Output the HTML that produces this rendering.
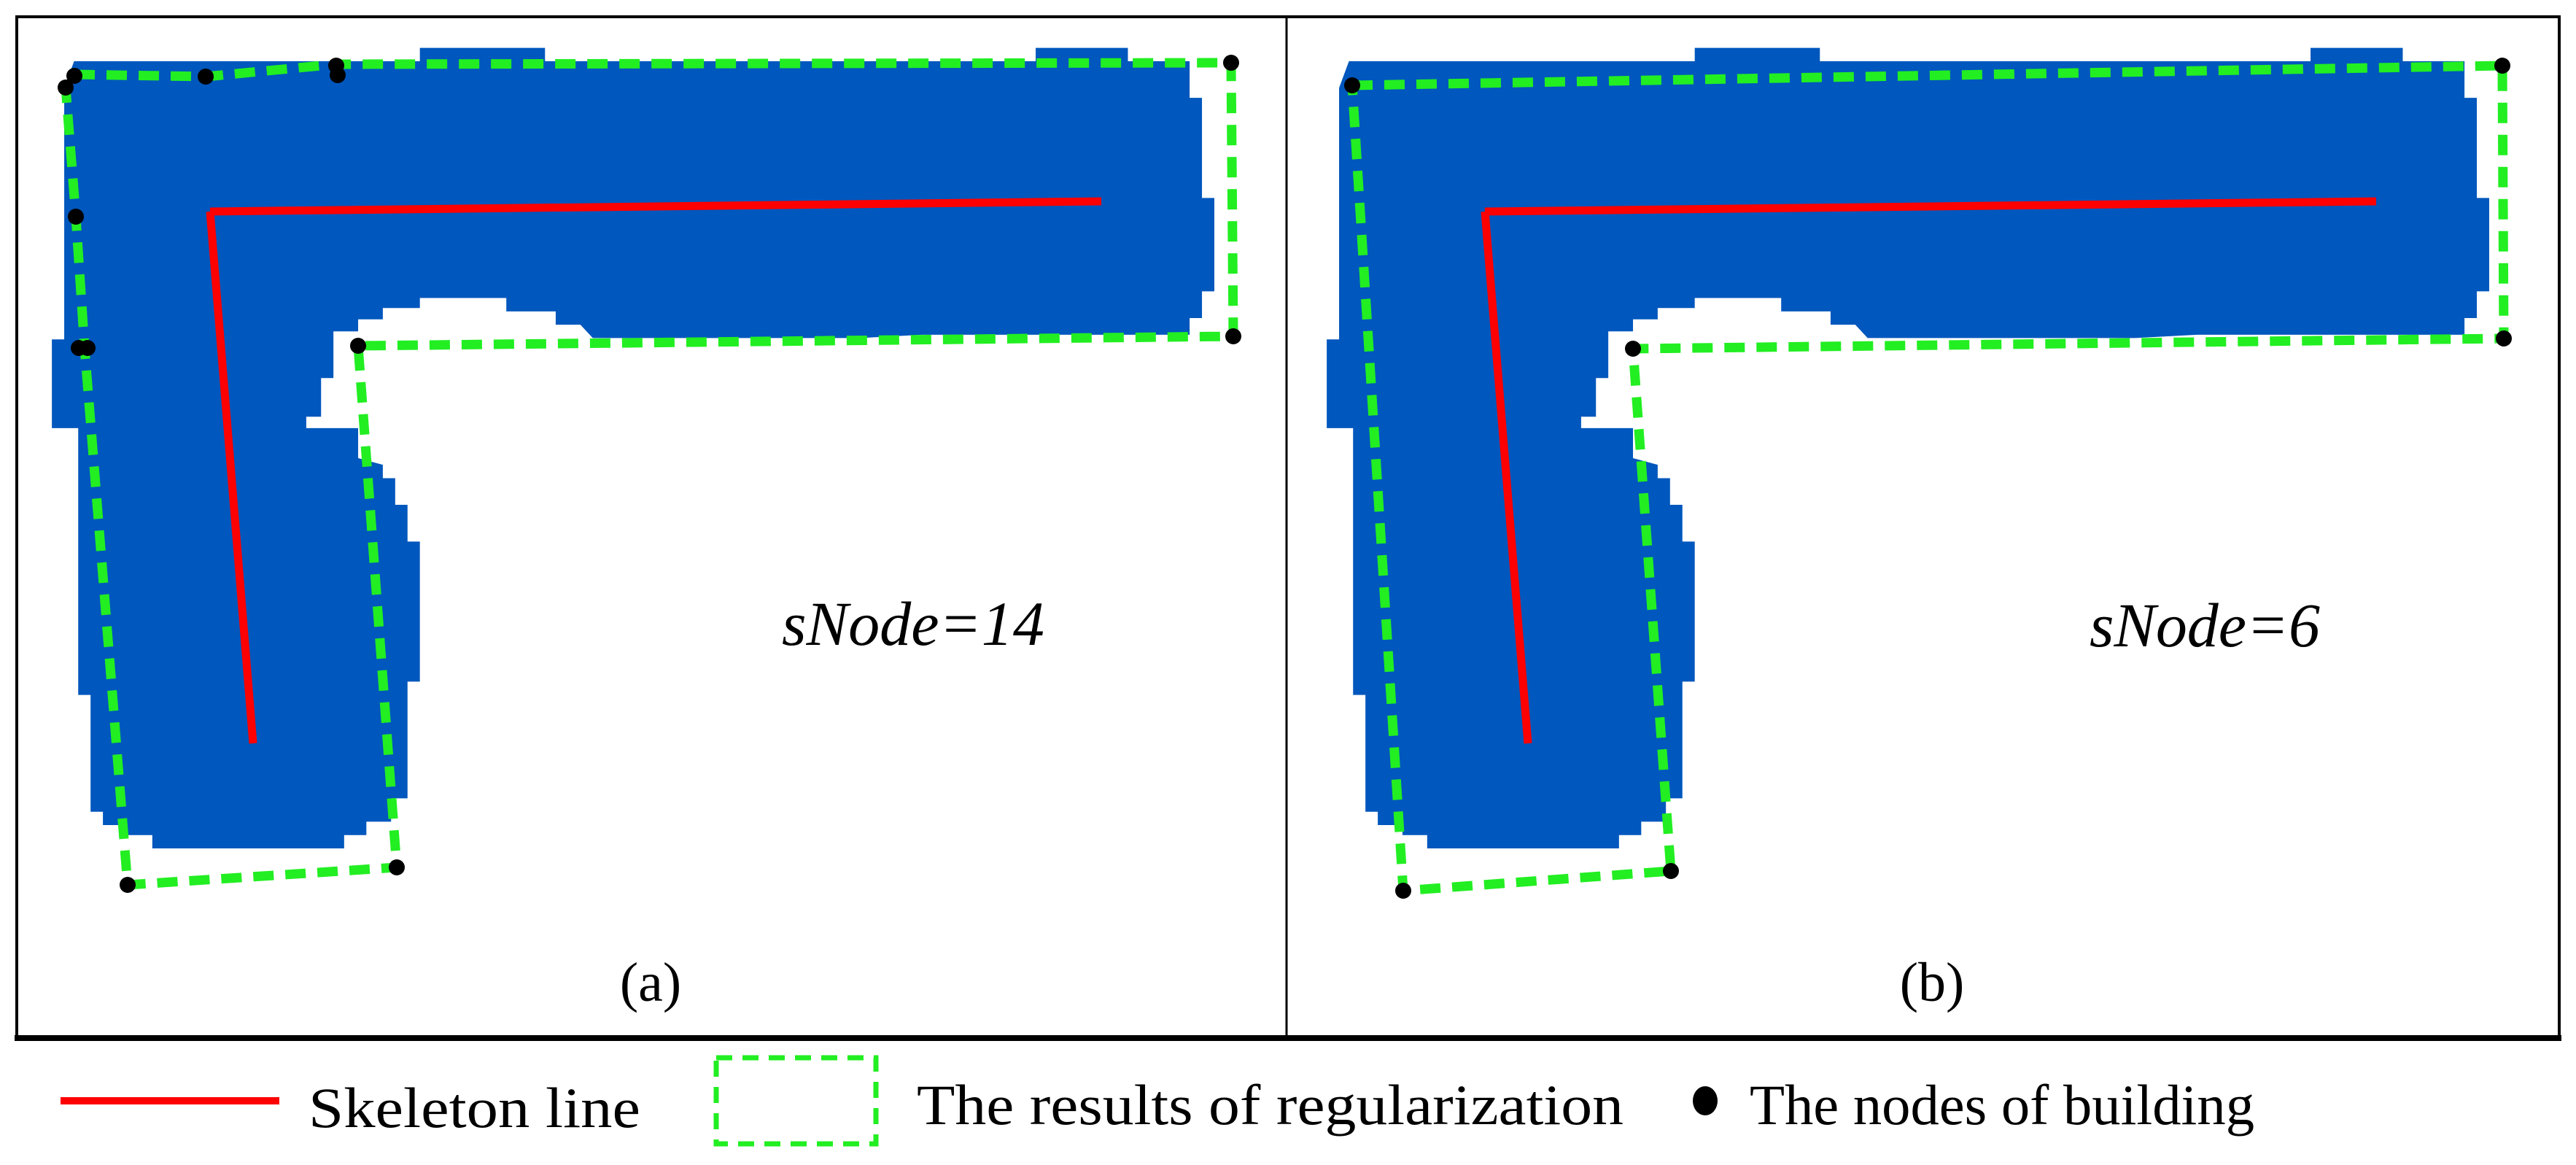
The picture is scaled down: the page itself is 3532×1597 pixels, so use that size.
<!DOCTYPE html>
<html><head><meta charset="utf-8"><style>html,body{margin:0;padding:0;background:#fff}svg{display:block}text{font-family:"Liberation Serif","Times New Roman",serif}</style></head>
<body>
<svg width="3532" height="1597" viewBox="0 0 3532 1597" xmlns="http://www.w3.org/2000/svg">
<rect width="3532" height="1597" fill="#fff"/>
<defs>
<g id="bld">
<polygon transform="matrix(1.1288 0 0 0.9145 0 -3)" fill="#0057bd" points="90,95 510,95 510,75 662,75 662,95 1258,95 1258,75 1370,75 1370,95 1445,95 1445,150 1460,150 1460,300 1475,300 1475,440 1460,440 1460,480 1445,480 1445,505 1120,505 1045,510 720,510 705,490 675,490 675,470 615,470 615,450 510,450 510,465 465,465 465,482 435,482 435,500 405,500 405,570 390,570 390,628 372,628 372,645 435,645 435,690 465,700 465,720 480,720 480,760 495,760 495,815 510,815 510,1025 495,1025 495,1200 475,1200 475,1235 445,1235 445,1255 418,1255 418,1275 185,1275 185,1255 155,1255 155,1240 125,1240 125,1220 110,1220 110,1045 95,1045 95,645 63,645 63,512 78,512 78,135"/>
<polyline points="288,290 1510,276" stroke="#ff0000" stroke-width="11" fill="none"/>
<polyline points="288,290 347,1019" stroke="#ff0000" stroke-width="11" fill="none"/>
</g>
</defs>
<use href="#bld"/>
<use href="#bld" transform="translate(1748,0)"/>
<g fill="none" stroke="#22ee22" stroke-width="13" stroke-dasharray="28,16">
<polygon points="102,102 282,105 461,88 1688,86 1691,461 491,474 544,1189 175,1213 116,477 104,297 90,120"/>
<polygon points="1854,117 3431,90 3433,464 2239,478 2291,1194 1924,1221"/>
</g>
<g fill="#000">
<circle cx="90" cy="120" r="11"/><circle cx="102" cy="104" r="11"/><circle cx="282" cy="105" r="11"/><circle cx="461" cy="90" r="11"/><circle cx="463" cy="103" r="11"/><circle cx="1688" cy="86" r="11"/><circle cx="1691" cy="461" r="11"/><circle cx="491" cy="474" r="11"/><circle cx="544" cy="1189" r="11"/><circle cx="175" cy="1213" r="11"/><circle cx="108" cy="477" r="11"/><circle cx="120" cy="477" r="11"/><circle cx="104" cy="297" r="11"/>
<circle cx="1854" cy="117" r="11"/><circle cx="3431" cy="90" r="11"/><circle cx="3433" cy="464" r="11"/><circle cx="2239" cy="478" r="11"/><circle cx="2291" cy="1194" r="11"/><circle cx="1924" cy="1221" r="11"/>
</g>
<g fill="#000">
<text x="1072" y="884" font-size="86" font-style="italic" textLength="360" lengthAdjust="spacingAndGlyphs">sNode=14</text>
<text x="2865" y="886" font-size="86" font-style="italic" textLength="316" lengthAdjust="spacingAndGlyphs">sNode=6</text>
<text x="892" y="1372" font-size="76" text-anchor="middle">(a)</text>
<text x="2649" y="1372" font-size="76" text-anchor="middle">(b)</text>
<text x="423" y="1545" font-size="78" textLength="455" lengthAdjust="spacingAndGlyphs">Skeleton line</text>
<text x="1257" y="1541" font-size="78" textLength="969" lengthAdjust="spacingAndGlyphs">The results of regularization</text>
<text x="2399" y="1541" font-size="78" textLength="692" lengthAdjust="spacingAndGlyphs">The nodes of building</text>
</g>
<rect x="23" y="23" width="3486" height="1400" fill="none" stroke="#000" stroke-width="4"/>
<line x1="20" y1="1423" x2="3512" y2="1423" stroke="#000" stroke-width="8"/>
<line x1="1764" y1="23" x2="1764" y2="1423" stroke="#000" stroke-width="3"/>
<line x1="83" y1="1509" x2="383" y2="1509" stroke="#ff0000" stroke-width="10"/>
<rect x="982" y="1450" width="219" height="118" fill="none" stroke="#22ee22" stroke-width="7" stroke-dasharray="22,14"/>
<ellipse cx="2338" cy="1509" rx="17" ry="20" fill="#000"/>
</svg>
</body></html>
